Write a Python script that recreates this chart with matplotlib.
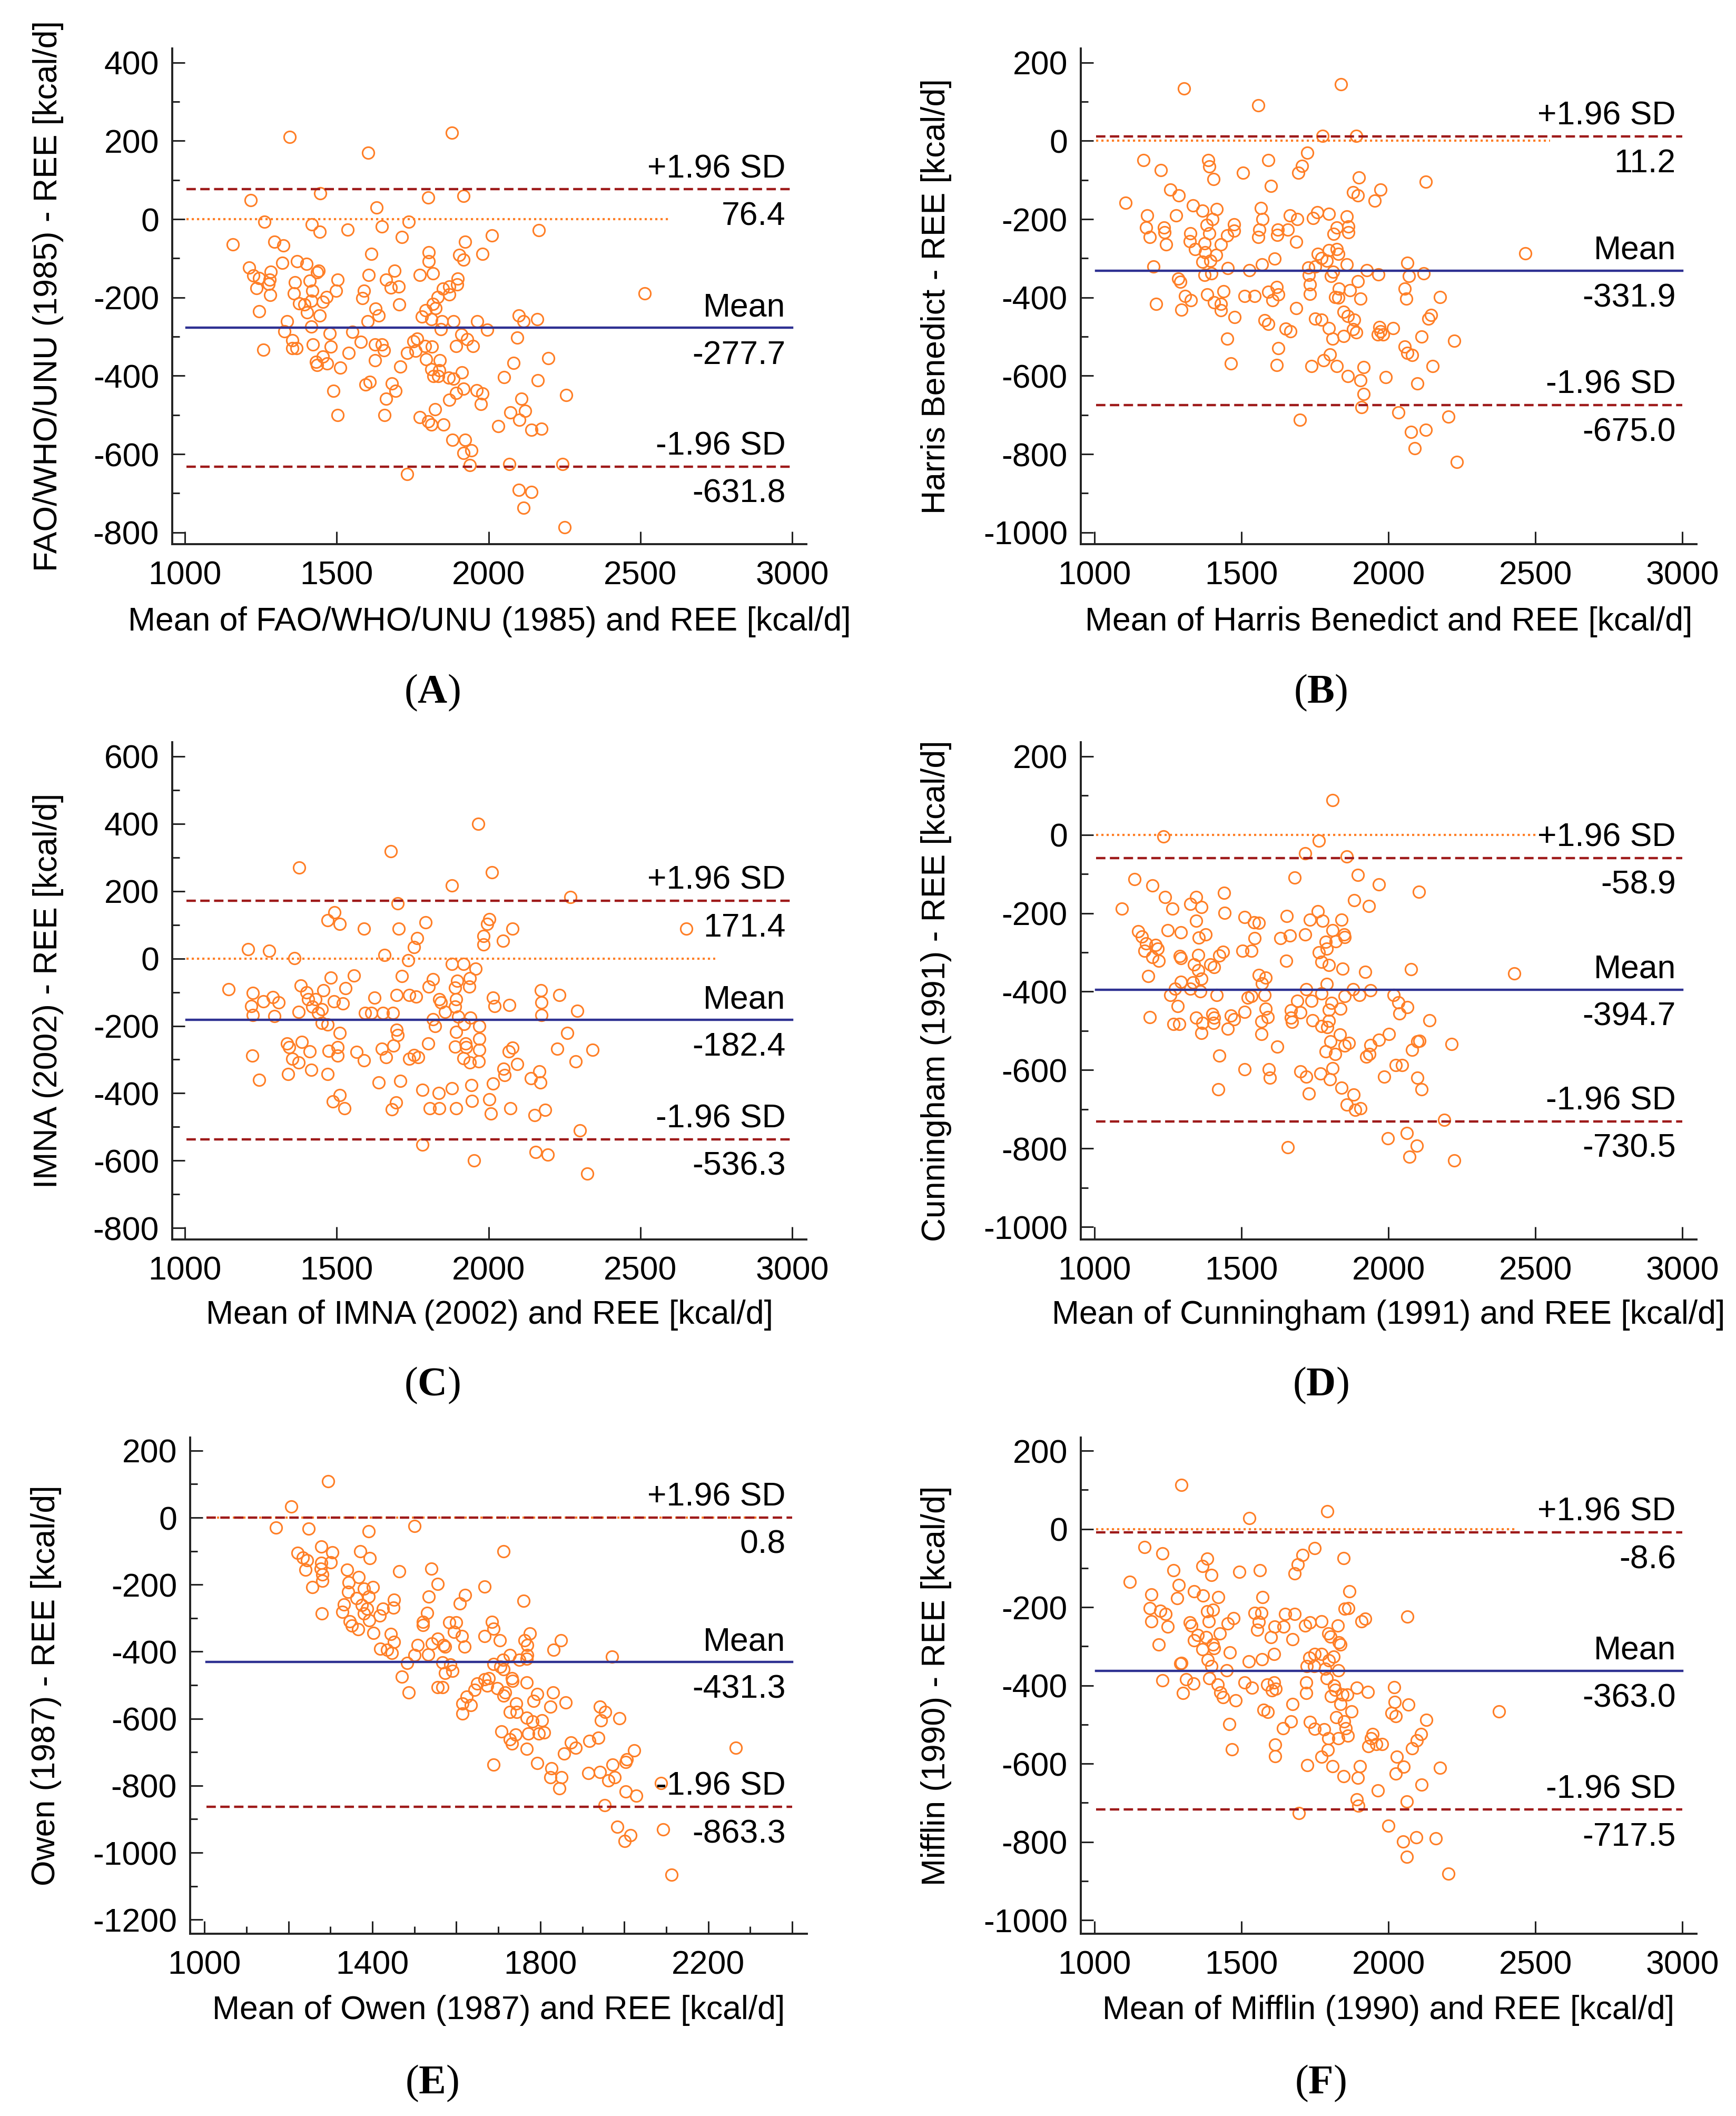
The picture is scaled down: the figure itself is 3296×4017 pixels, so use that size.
import matplotlib
matplotlib.use("Agg")
import matplotlib.pyplot as plt
from matplotlib.ticker import FixedLocator

plt.rcParams['font.family'] = ['Liberation Sans', 'DejaVu Sans']
plt.rcParams['axes.unicode_minus'] = False
plt.rcParams['mathtext.fontset'] = 'custom'
plt.rcParams['mathtext.rm'] = 'Liberation Serif'
plt.rcParams['mathtext.bf'] = 'Liberation Serif:bold'

# (mean of method and REE, method - REE)
points_a = [
    (1345, 210), (1603, 170), (1880, 221), (1216, 48), (1446, 66), (1801, 55), (1917, 59), (1632, 30), (1262, -6), (1737, -6),
    (1417, -13), (1443, -32), (1535, -27), (1649, -19), (1715, -45), (2012, -42), (2165, -28), (1158, -64), (1295, -58), (1324, -67),
    (1922, -58), (1803, -85), (1613, -89), (1903, -92), (1917, -104), (1980, -89), (1803, -108), (1320, -111), (1370, -108), (1401, -114),
    (1212, -124), (1441, -132), (1436, -136), (1282, -134), (1225, -144), (1244, -150), (1279, -155), (1691, -132), (1605, -142), (1817, -139),
    (1774, -142), (1899, -152), (1363, -161), (1410, -157), (1502, -155), (1662, -155), (1276, -165), (1235, -176), (1704, -172), (1678, -175),
    (1850, -178), (1871, -172), (1896, -167), (1589, -183), (1497, -183), (1420, -183), (1358, -189), (1281, -194), (1467, -199), (1585, -202),
    (1833, -199), (1870, -192), (1377, -215), (1416, -208), (1454, -211), (1394, -218), (1705, -218), (1628, -229), (1817, -216), (1793, -233),
    (1825, -227), (1245, -236), (1403, -238), (1443, -246), (1639, -246), (1781, -249), (1812, -255), (2099, -246), (2161, -255), (2115, -261),
    (1337, -261), (1601, -261), (1846, -261), (1884, -261), (1963, -261), (1416, -274), (1843, -281), (1328, -287), (1552, -288), (1995, -283),
    (1476, -292), (1910, -295), (2095, -302), (1353, -309), (1580, -314), (1764, -305), (1752, -312), (1421, -320), (1626, -320), (1649, -320),
    (1929, -306), (1949, -324), (1893, -324), (1790, -324), (1813, -326), (1353, -329), (1367, -329), (1480, -326), (1258, -334), (1655, -335),
    (1731, -341), (1760, -336), (1539, -342), (1454, -351), (2197, -355), (1626, -360), (1795, -358), (1840, -361), (1431, -365), (1468, -368),
    (2082, -367), (1436, -373), (1709, -377), (1512, -379), (1811, -384), (1837, -386), (1913, -392), (1818, -401), (1835, -401), (1869, -405),
    (1884, -408), (2051, -403), (2162, -412), (1609, -416), (1595, -422), (1682, -420), (1917, -433), (1489, -438), (1693, -438), (1894, -444),
    (1960, -437), (1980, -445), (2256, -449), (1662, -459), (1870, -461), (2109, -459), (1975, -472), (1502, -500), (1658, -500), (1823, -485),
    (2072, -493), (2120, -489), (1773, -506), (1801, -517), (1811, -524), (1851, -524), (2101, -513), (2032, -529), (2141, -538), (2174, -535),
    (1881, -564), (1922, -564), (1943, -590), (1917, -597), (1939, -628), (2068, -626), (2243, -626), (1731, -651), (2099, -691), (2141, -697),
    (2115, -737), (2251, -787), (2514, -190),
]

points_b = [
    (1305, 134), (1839, 145), (1557, 91), (1776, 13), (1890, 13), (1167, -49), (1225, -75), (1387, -49), (1391, -65), (1404, -97),
    (1505, -82), (1591, -49), (1724, -30), (1705, -64), (1693, -82), (1600, -115), (1899, -93), (2127, -104), (1258, -125), (1286, -140),
    (1105, -158), (1880, -131), (1896, -139), (1972, -125), (1953, -153), (1335, -165), (1367, -178), (1416, -175), (1566, -171), (1178, -191),
    (1277, -190), (1401, -200), (1572, -200), (1664, -191), (1690, -200), (1744, -197), (1758, -182), (1797, -186), (1858, -193), (1176, -221),
    (1237, -221), (1238, -234), (1187, -246), (1244, -265), (1326, -236), (1381, -215), (1391, -236), (1324, -257), (1375, -262), (1341, -276),
    (1430, -265), (1452, -242), (1474, -214), (1474, -229), (1561, -227), (1557, -245), (1624, -227), (1621, -240), (1658, -227), (1686, -258),
    (1824, -221), (1813, -238), (1864, -219), (1863, -234), (1376, -285), (1413, -291), (1367, -309), (1393, -306), (1759, -289), (1772, -300),
    (1790, -306), (1797, -279), (1824, -276), (1830, -289), (1612, -301), (1569, -316), (1200, -321), (1453, -325), (1527, -330), (1727, -324),
    (1750, -321), (1812, -335), (1858, -315), (1927, -330), (2065, -312), (1966, -341), (2070, -345), (2120, -338), (2465, -287), (1375, -343),
    (1397, -339), (1284, -352), (1292, -360), (1729, -342), (1804, -345), (1733, -367), (1896, -358), (1831, -377), (1868, -381), (1619, -373),
    (1591, -385), (1625, -392), (1439, -384), (1384, -392), (1307, -397), (1510, -397), (1545, -397), (1606, -407), (1733, -391), (1818, -399),
    (1830, -401), (1904, -403), (2056, -378), (2061, -403), (2176, -399), (1210, -416), (1327, -407), (1407, -412), (1430, -416), (1296, -431),
    (1430, -433), (1686, -427), (1477, -450), (1751, -454), (1772, -457), (1847, -437), (1861, -448), (1883, -457), (2136, -454), (2145, -445),
    (1579, -458), (1591, -467), (1650, -480), (1667, -487), (1797, -478), (1879, -481), (1890, -489), (1969, -476), (1973, -487), (2015, -478),
    (1963, -495), (1981, -495), (1809, -505), (1847, -498), (2113, -500), (2224, -511), (1452, -505), (1625, -529), (2056, -525), (2064, -542),
    (2081, -547), (1801, -545), (1779, -560), (1464, -568), (1619, -573), (1738, -575), (1824, -575), (1916, -578), (2151, -575), (1862, -601),
    (1905, -611), (1990, -604), (2099, -620), (1916, -647), (1908, -680), (2033, -694), (2204, -704), (1699, -712), (2077, -744), (2126, -738),
    (2090, -785), (2233, -820),
]

points_c = [
    (1966, 399), (1678, 319), (1377, 270), (2012, 256), (1880, 216), (2270, 182), (1700, 163), (1492, 137), (1470, 114), (1509, 102),
    (1589, 89), (1704, 89), (1793, 107), (2003, 117), (1996, 102), (2078, 89), (2651, 89), (1765, 60), (1755, 34), (1983, 67),
    (1983, 42), (2048, 52), (1208, 27), (1277, 23), (1360, 1), (1658, 10), (1735, -5), (1880, -16), (1918, -16), (1957, -31),
    (1938, -58), (1480, -57), (1557, -50), (1715, -53), (1817, -61), (1803, -83), (1897, -66), (1890, -86), (1937, -83), (1143, -91),
    (1224, -103), (1381, -80), (1401, -100), (1456, -95), (1529, -88), (1697, -108), (1738, -108), (1761, -113), (1625, -116), (2172, -95),
    (2233, -108), (1290, -115), (1258, -128), (1309, -130), (1219, -141), (1405, -121), (1430, -121), (1490, -128), (1520, -133), (1837, -121),
    (1843, -131), (1893, -121), (2015, -116), (2019, -141), (2068, -138), (2175, -131), (1890, -143), (1420, -143), (1451, -151), (1375, -158),
    (1438, -161), (1593, -161), (1613, -161), (1652, -161), (1685, -161), (1857, -158), (2293, -155), (1224, -168), (1295, -171), (2175, -168),
    (1900, -173), (1940, -175), (1817, -181), (1920, -195), (1450, -191), (1470, -196), (1824, -201), (1970, -201), (1697, -211), (1509, -221),
    (1894, -218), (2260, -221), (1701, -228), (1969, -238), (1337, -253), (1384, -248), (1344, -263), (1687, -258), (1801, -253), (1890, -261),
    (1924, -253), (1926, -263), (1648, -268), (1502, -263), (1970, -271), (2078, -265), (2227, -268), (2343, -271), (1410, -276), (1474, -275),
    (1565, -278), (2067, -276), (1222, -288), (1502, -288), (1662, -293), (1754, -286), (1768, -293), (1917, -296), (1590, -303), (1738, -298),
    (1354, -298), (1375, -308), (1939, -308), (1967, -306), (2287, -306), (2095, -313), (1416, -330), (2049, -328), (2168, -335), (1340, -343),
    (1470, -343), (2053, -346), (2139, -356), (1244, -361), (1639, -368), (1709, -363), (2170, -368), (2015, -371), (1943, -376), (1880, -385),
    (1783, -390), (1836, -400), (1509, -405), (1487, -425), (1695, -428), (1946, -423), (2003, -418), (1526, -445), (1681, -448), (1807, -445),
    (1838, -445), (1893, -445), (2072, -445), (2187, -450), (2008, -461), (2152, -465), (2301, -511), (1783, -553), (2155, -575), (2195, -583),
    (1953, -599), (2326, -638),
]

points_d = [
    (1810, 88), (1234, -4), (1763, -15), (1716, -47), (1858, -55), (1135, -113), (1197, -130), (1681, -109), (1896, -102), (1967, -127),
    (2104, -146), (1440, -148), (1239, -159), (1345, -159), (1326, -177), (1363, -185), (1264, -189), (1883, -167), (1933, -182), (1093, -189),
    (1443, -199), (1511, -210), (1542, -223), (1559, -225), (1653, -207), (1759, -195), (1732, -217), (1776, -220), (1840, -217), (1345, -220),
    (1148, -246), (1249, -244), (1293, -249), (1378, -254), (1354, -263), (1160, -260), (1175, -277), (1207, -281), (1215, -291), (1170, -296),
    (1197, -312), (1218, -321), (1182, -360), (1290, -309), (1293, -315), (1353, -307), (1339, -331), (1393, -331), (1407, -337), (1425, -308),
    (1436, -298), (1504, -296), (1533, -296), (1545, -264), (1633, -264), (1664, -257), (1716, -254), (1810, -244), (1849, -254), (1850, -261),
    (1787, -273), (1821, -272), (1790, -290), (1763, -300), (1652, -321), (1772, -324), (1797, -332), (1844, -342), (1920, -350), (2076, -343),
    (2428, -354), (1353, -345), (1363, -367), (1559, -358), (1582, -364), (1570, -379), (1293, -375), (1335, -377), (1273, -393), (1326, -393),
    (1360, -399), (1258, -409), (1416, -409), (1720, -394), (1790, -380), (1772, -405), (1879, -394), (1939, -397), (1901, -409), (1850, -411),
    (2018, -409), (1521, -416), (1533, -411), (1579, -409), (1283, -437), (1582, -444), (1690, -424), (1738, -424), (1806, -429), (2033, -427),
    (2065, -440), (1668, -448), (1701, -453), (1797, -446), (1837, -443), (2037, -456), (1511, -452), (1187, -465), (1345, -467), (1401, -457),
    (1407, -467), (1464, -461), (1474, -470), (1590, -465), (1567, -476), (1668, -467), (1671, -477), (1741, -473), (1797, -474), (2139, -473),
    (1268, -483), (1289, -482), (1367, -480), (1404, -480), (1453, -495), (1363, -506), (1567, -508), (1772, -488), (1791, -491), (1834, -510),
    (2001, -508), (1967, -523), (2099, -527), (2105, -525), (1803, -527), (1865, -531), (1850, -538), (1938, -536), (2215, -533), (1621, -540),
    (1787, -553), (1819, -559), (1924, -566), (1935, -559), (2081, -549), (1425, -563), (2024, -587), (2046, -587), (1511, -598), (1593, -598),
    (1597, -620), (1701, -604), (1720, -617), (1769, -609), (1810, -596), (1801, -624), (1985, -617), (2099, -619), (2113, -649), (1421, -649),
    (1840, -645), (1729, -660), (1881, -663), (1858, -688), (1887, -701), (1904, -697), (2190, -727), (1997, -774), (2062, -761), (2096, -793),
    (2071, -821), (1658, -797), (2224, -831),
]

points_e = [
    (1295, 109), (1207, 33), (1171, -30), (1248, -33), (1391, -41), (1500, -25), (1713, -100), (1222, -105), (1235, -120), (1245, -128),
    (1278, -87), (1305, -103), (1278, -135), (1301, -133), (1241, -156), (1277, -153), (1281, -169), (1281, -189), (1257, -207), (1371, -100),
    (1394, -121), (1340, -156), (1368, -178), (1344, -193), (1464, -160), (1540, -153), (1556, -198), (1401, -207), (1380, -213), (1342, -221),
    (1363, -241), (1391, -236), (1375, -261), (1332, -259), (1328, -282), (1387, -272), (1380, -286), (1425, -272), (1452, -246), (1450, -269),
    (1417, -292), (1393, -306), (1346, -310), (1351, -322), (1366, -333), (1279, -286), (1534, -236), (1608, -257), (1621, -231), (1667, -206),
    (1760, -249), (1531, -284), (1521, -311), (1521, -321), (1583, -313), (1600, -313), (1685, -311), (1688, -331), (1595, -341), (1613, -353),
    (1403, -344), (1444, -348), (1452, -371), (1419, -392), (1435, -395), (1446, -404), (1508, -380), (1542, -376), (1556, -362), (1570, -380),
    (1573, -385), (1620, -385), (1667, -353), (1704, -367), (1775, -346), (1769, -380), (1763, -367), (1849, -367), (1831, -394), (1533, -409),
    (1500, -411), (1483, -434), (1567, -432), (1586, -439), (1591, -457), (1573, -464), (1688, -437), (1711, -424), (1728, -411), (1750, -424),
    (1769, -411), (1767, -421), (1713, -452), (1705, -445), (1971, -415), (1470, -474), (1487, -522), (1556, -507), (1567, -507), (1667, -482),
    (1677, -479), (1674, -502), (1732, -479), (1734, -487), (1767, -492), (1643, -514), (1650, -495), (1697, -510), (1716, -522), (1713, -532),
    (1625, -534), (1615, -555), (1635, -560), (1614, -585), (1742, -555), (1727, -580), (1744, -580), (1793, -527), (1784, -547), (1830, -522),
    (1824, -565), (1861, -552), (1767, -597), (1782, -609), (1804, -605), (1942, -565), (1954, -580), (1944, -605), (1989, -599), (1708, -639),
    (1728, -662), (1741, -647), (1732, -674), (1772, -644), (1796, -644), (1809, -642), (1767, -690), (1873, -672), (1884, -687), (1857, -705),
    (1917, -667), (1938, -657), (2024, -695), (2006, -721), (2003, -730), (1972, -738), (1793, -733), (1689, -738), (1827, -748), (1824, -775),
    (1850, -775), (1846, -808), (1915, -763), (1942, -760), (1977, -775), (1962, -785), (2004, -818), (2029, -830), (2087, -793), (1953, -858),
    (1983, -923), (2015, -948), (2001, -965), (2093, -931), (2113, -1066), (2266, -687),
]

points_f = [
    (1296, 113), (1527, 28), (1791, 46), (1169, -46), (1230, -63), (1384, -76), (1367, -95), (1397, -117), (1268, -106), (1492, -109),
    (1563, -106), (1681, -114), (1692, -91), (1707, -66), (1748, -49), (1847, -74), (1120, -135), (1287, -143), (1193, -168), (1281, -177),
    (1339, -159), (1369, -170), (1421, -174), (1572, -174), (1867, -160), (1187, -203), (1224, -209), (1241, -217), (1249, -249), (1193, -236),
    (1384, -210), (1403, -207), (1388, -236), (1324, -239), (1330, -247), (1453, -241), (1473, -228), (1545, -215), (1567, -215), (1559, -237),
    (1553, -258), (1613, -250), (1600, -276), (1649, -217), (1681, -217), (1643, -250), (1717, -247), (1732, -239), (1772, -236), (1828, -247),
    (1796, -267), (1803, -275), (1831, -290), (1836, -296), (1850, -204), (1864, -203), (1908, -236), (1920, -229), (2065, -224), (1427, -267),
    (1351, -271), (1379, -277), (1339, -284), (1403, -295), (1407, -305), (1367, -308), (1218, -296), (1461, -316), (1673, -282), (1610, -320),
    (1569, -333), (1524, -339), (1385, -335), (1397, -351), (1292, -344), (1296, -342), (1730, -329), (1748, -320), (1772, -320), (1813, -326),
    (1797, -336), (1747, -351), (1721, -351), (1785, -357), (1829, -362), (1449, -362), (1230, -387), (1311, -385), (1390, -382), (1336, -395),
    (1419, -398), (1511, -393), (1535, -406), (1587, -398), (1610, -393), (1604, -412), (1616, -409), (1720, -393), (1790, -382), (1815, -400),
    (1892, -406), (1819, -411), (2019, -405), (1301, -419), (1428, -418), (1436, -430), (1720, -419), (1844, -424), (1859, -424), (1929, -417),
    (1804, -427), (1480, -438), (1673, -448), (1837, -448), (2022, -442), (2067, -449), (1575, -462), (1590, -468), (1874, -466), (2010, -471),
    (2025, -479), (1822, -481), (1849, -492), (2129, -488), (1733, -494), (1668, -492), (1459, -499), (1641, -510), (1748, -511), (1781, -512),
    (1854, -510), (1861, -528), (1796, -535), (1830, -535), (1945, -525), (1941, -535), (1959, -550), (1932, -556), (1978, -550), (2110, -525),
    (2096, -540), (2081, -561), (1615, -551), (1468, -564), (1615, -581), (1793, -565), (1772, -582), (2028, -582), (1724, -604), (1810, -607),
    (1902, -607), (2052, -608), (2176, -611), (2024, -625), (1847, -632), (1896, -636), (2113, -654), (1963, -668), (1892, -692), (1898, -707),
    (2062, -697), (1695, -726), (2000, -759), (2049, -799), (2095, -789), (2161, -791), (2062, -838), (2204, -881), (2376, -467),
]

panel_points = [points_a, points_b, points_c, points_d, points_e, points_f]
panel_letters = ['A', 'B', 'C', 'D', 'E', 'F']

upper_sd = [76.4, 11.2, 171.4, -58.9, 0.8, -8.6]
mean_diff = [-277.7, -331.9, -182.4, -394.7, -431.3, -363.0]
lower_sd = [-631.8, -675.0, -536.3, -730.5, -863.3, -717.5]
zero_line_end = [2595, 2550, 2746, 2508, 2340, 2438]

y_labels = [
    'FAO/WHO/UNU (1985) - REE [kcal/d]',
    'Harris Benedict - REE [kcal/d]',
    'IMNA (2002) - REE [kcal/d]',
    'Cunningham (1991) - REE [kcal/d]',
    'Owen (1987) - REE [kcal/d]',
    'Mifflin (1990) - REE [kcal/d]',
]
x_labels = [
    'Mean of FAO/WHO/UNU (1985) and REE [kcal/d]',
    'Mean of Harris Benedict and REE [kcal/d]',
    'Mean of IMNA (2002) and REE [kcal/d]',
    'Mean of Cunningham (1991) and REE [kcal/d]',
    'Mean of Owen (1987) and REE [kcal/d]',
    'Mean of Mifflin (1990) and REE [kcal/d]',
]

y_tick_ranges = [(-800, 400), (-1000, 200), (-800, 600), (-1000, 200), (-1200, 200), (-1000, 200)]
x_tick_ranges = [(1000, 3000), (1000, 3000), (1000, 3000), (1000, 3000), (1000, 2400), (1000, 3000)]
x_limits = [(958, 3047), (953, 3048), (958, 3047), (953, 3048), (966, 2435), (953, 3048)]
y_limits = [(-830, 436), (-1030, 236), (-834, 642), (-1032, 236), (-1242, 239), (-1035, 234)]

# layout in pixels of the 3296 x 4017 canvas
W, H = 3296, 4017
DPI = 100
axes_px = [
    (327, 92, 1531, 1033), (2052, 92, 3221, 1033),
    (327, 1409, 1531, 2353), (2052, 1409, 3221, 2353),
    (361, 2729, 1532, 3671), (2052, 2729, 3221, 3671),
]
ylabel_x = [92, 1778, 92, 1778, 88, 1778]
xlabel_y = [1181, 1181, 2496, 2496, 3816, 3816]
letter_xy = [(820, 1315), (2507, 1315), (820, 2630), (2507, 2630), (820, 3955), (2507, 3955)]

ORANGE = '#FF7F27'
NAVY = '#2E3192'
DARK_RED = '#9E1A1A'
AXIS_COLOR = '#222222'
FS = 45
LINE_START = 1005


def box(left, top, right, bottom):
    return [left / W, 1 - bottom / H, (right - left) / W, (bottom - top) / H]


def draw_panel(fig, i):
    ax = fig.add_axes(box(*axes_px[i]))
    xs = [p[0] for p in panel_points[i]]
    ys = [p[1] for p in panel_points[i]]
    x_end = x_tick_ranges[i][1]

    ax.plot([LINE_START, zero_line_end[i]], [0, 0], color=ORANGE, lw=3.0,
            ls=(0, (1, 1.4)), zorder=2)
    ax.plot(xs, ys, 'o', ms=16, mfc='none', mec=ORANGE, mew=2.2, zorder=3)
    ax.plot([LINE_START, x_end], [upper_sd[i]] * 2, color=DARK_RED, lw=3.2,
            ls=(0, (4, 1.9)), zorder=4)
    ax.plot([LINE_START, x_end], [lower_sd[i]] * 2, color=DARK_RED, lw=3.2,
            ls=(0, (4, 1.9)), zorder=4)
    ax.plot([LINE_START, x_end], [mean_diff[i]] * 2, color=NAVY, lw=3.2, zorder=4)

    for name, val in (('+1.96 SD', upper_sd[i]), ('Mean', mean_diff[i]),
                      ('-1.96 SD', lower_sd[i])):
        ax.annotate(name, xy=(x_end, val), xytext=(-9, 16), textcoords='offset points',
                    ha='right', va='baseline', fontsize=FS, zorder=5)
        ax.annotate('{0:.1f}'.format(val), xy=(x_end, val), xytext=(-9, -16),
                    textcoords='offset points', ha='right', va='top', fontsize=FS, zorder=5)

    ax.set_xlim(*x_limits[i])
    ax.set_ylim(*y_limits[i])

    y_lo, y_hi = y_tick_ranges[i]
    ax.yaxis.set_major_locator(FixedLocator(range(y_lo, y_hi + 1, 200)))
    ax.yaxis.set_minor_locator(FixedLocator(range(y_lo + 100, y_hi, 200)))

    x_lo, x_hi = x_tick_ranges[i]
    if x_hi == 2400:
        ticks = list(range(x_lo, x_hi + 1, 200))
        ax.set_xticks(ticks)
        ax.set_xticklabels([str(t) if (t - x_lo) % 400 == 0 else '' for t in ticks])
        ax.xaxis.set_minor_locator(FixedLocator(range(x_lo + 100, x_hi, 200)))
    else:
        ax.set_xticks(range(x_lo, x_hi + 1, 500))

    for side in ('top', 'right'):
        ax.spines[side].set_visible(False)
    for side in ('left', 'bottom'):
        ax.spines[side].set_linewidth(2.8)
        ax.spines[side].set_color(AXIS_COLOR)

    ax.tick_params(which='major', direction='in', length=17, width=2.2,
                   color=AXIS_COLOR, labelsize=FS)
    ax.tick_params(which='minor', direction='in', length=10, width=2.2, color=AXIS_COLOR)
    ax.tick_params(axis='y', which='major', pad=18)
    ax.tick_params(axis='x', which='major', pad=22)

    left, top, right, bottom = axes_px[i]
    fig.text(ylabel_x[i] / W, 1 - (top + bottom) / 2 / H, y_labels[i], rotation=90,
             ha='center', va='center', fontsize=FS)
    fig.text((left + right) / 2 / W, 1 - xlabel_y[i] / H, x_labels[i],
             ha='center', va='center', fontsize=FS)
    lx, ly = letter_xy[i]
    fig.text(lx / W, 1 - ly / H, r'$\mathrm{(}\mathbf{' + panel_letters[i] + r'}\mathrm{)}$',
             ha='center', va='center', fontsize=56)


def main():
    fig = plt.figure(figsize=(W / DPI, H / DPI), dpi=DPI)
    for i in range(len(panel_points)):
        draw_panel(fig, i)
    fig.savefig('out.png', dpi=DPI, facecolor='white')
    return 0


if __name__ == '__main__':
    main()
